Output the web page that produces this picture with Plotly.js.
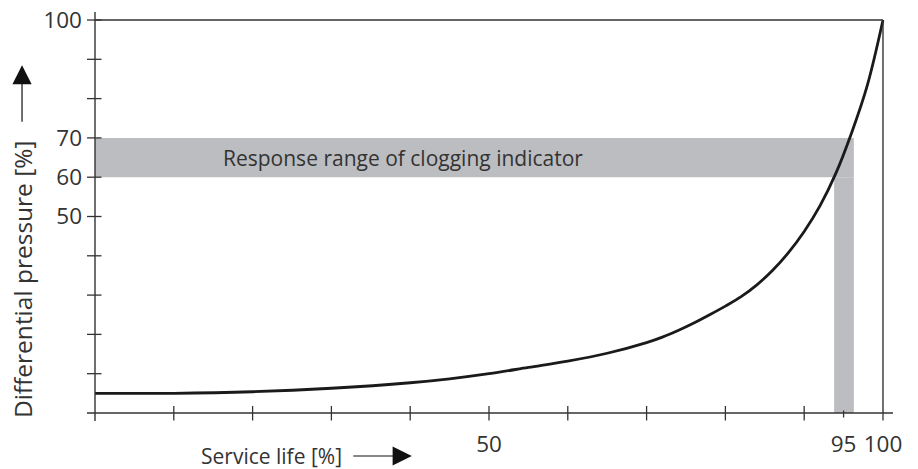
<!DOCTYPE html>
<html>
<head>
<meta charset="utf-8">
<script src="https://cdn.plot.ly/plotly-3.0.1.min.js"></script>
<style>html,body{margin:0;padding:0;background:#fff;}#chart{width:918px;height:469px;}</style>
</head>
<body>
<div id="chart"></div>
<script>
// Curve data: service life [%] vs differential pressure [%]
const serviceLife = [0, 10, 20, 30, 40, 45, 50, 55, 60, 65, 70, 72, 74, 76, 78, 80, 82, 84, 86, 88, 90, 92, 94, 96, 98, 100];
const diffPressure = [5.0, 5.0, 5.4, 6.3, 7.7, 8.7, 10.0, 11.6, 13.2, 15.2, 17.9, 19.3, 21.0, 22.9, 25.0, 27.2, 29.6, 32.6, 36.3, 40.8, 46.2, 52.7, 60.9, 71.2, 83.3, 100];

// Response range of clogging indicator
const responsePressure = [60, 70];
const responseLife = [93.8, 96.3];

// Ticks
const yTickMarks = [10, 20, 30, 40, 50, 60, 70, 80, 90, 100];
const yTickLabels = [100, 70, 60, 50];
const xTickMarks = [10, 20, 30, 40, 50, 60, 70, 80, 90, 100];
const xTickLabels = [50, 95, 100];
const xMax = 100, yMax = 100;

const axisColor = '#333333';
const bandColor = '#bcbdc0';
const textColor = '#333333';
const fontFamily = '"Open Sans", "Noto Sans", sans-serif';

const shapes = [];
// band
shapes.push({type:'rect', xref:'x', yref:'y', x0:0, x1:responseLife[1], y0:responsePressure[0], y1:responsePressure[1],
  fillcolor:bandColor, line:{width:0}, layer:'below'});
shapes.push({type:'rect', xref:'x', yref:'y', x0:responseLife[0], x1:responseLife[1], y0:0, y1:responsePressure[0],
  fillcolor:bandColor, line:{width:0}, layer:'below'});
// axes
shapes.push({type:'line', xref:'x', yref:'paper', x0:0, x1:0, y0:0, y1:1, line:{color:axisColor, width:1.4}});
shapes.push({type:'line', xref:'paper', yref:'y', x0:0, x1:1, y0:0, y1:0, line:{color:axisColor, width:1.4}});
// frame top / right
shapes.push({type:'line', xref:'x', yref:'y', x0:0, x1:xMax, y0:yMax, y1:yMax, line:{color:axisColor, width:1.4}});
shapes.push({type:'line', xref:'x', yref:'y', x0:xMax, x1:xMax, y0:0, y1:yMax, line:{color:axisColor, width:1.4}});
// y tick marks (crossing)
yTickMarks.forEach(v => shapes.push({type:'line', xref:'x', yref:'y', xsizemode:'pixel', xanchor:0,
  x0:-8, x1:6.5, y0:v, y1:v, line:{color:axisColor, width:1.3}}));
// x tick marks (crossing)
xTickMarks.forEach(v => shapes.push({type:'line', xref:'x', yref:'y', ysizemode:'pixel', yanchor:0,
  x0:v, x1:v, y0:-7.5, y1:v === xMax ? 0 : 7, line:{color:axisColor, width:1.3}}));
// short 95 tick
shapes.push({type:'line', xref:'x', yref:'y', ysizemode:'pixel', yanchor:0,
  x0:xTickLabels[1], x1:xTickLabels[1], y0:-4.5, y1:2.5, line:{color:axisColor, width:1.3}});

const data = [{
  x: serviceLife, y: diffPressure, type:'scatter', mode:'lines',
  line:{color:'#1a1a1a', width:2.8, shape:'spline', smoothing:1.0},
  hoverinfo:'skip'
}];

const layout = {
  width:918, height:469,
  margin:{l:87, r:25, t:12, b:48},
  paper_bgcolor:'#ffffff', plot_bgcolor:'#ffffff',
  showlegend:false,
  font:{family:fontFamily, color:textColor, size:21},
  xaxis:{range:[-1.015, 101.27], showgrid:false, zeroline:false, showline:false,
    tickmode:'array', tickvals:xTickLabels, ticktext:xTickLabels.map(String), ticks:'',
    ticklabelstandoff:7, tickfont:{family:fontFamily, size:22.5, color:textColor}, fixedrange:true},
  yaxis:{range:[-2.04, 102.04], showgrid:false, zeroline:false, showline:false,
    tickmode:'array', tickvals:yTickLabels, ticktext:yTickLabels.map(String), ticks:'',
    ticklabelstandoff:4, tickfont:{family:fontFamily, size:22.5, color:textColor}, fixedrange:true},
  shapes: shapes,
  annotations:[
    {text:'Response range of clogging indicator', xref:'x', yref:'y', x:16.0, y:(responsePressure[0]+responsePressure[1])/2,
     xanchor:'left', yanchor:'middle', showarrow:false, font:{family:fontFamily, size:21, color:textColor}},
    {text:'Differential pressure [%]', xref:'paper', yref:'paper', x:-0.0806, y:0.347, textangle:-90,
     xanchor:'center', yanchor:'middle', showarrow:false, font:{family:fontFamily, size:24.5, color:textColor}},
    {text:'', xref:'paper', yref:'paper', x:-0.0806, y:0.870, ax:0, ay:58, showarrow:true,
     arrowhead:2, arrowsize:3.2, arrowwidth:1.2, arrowcolor:'#111', standoff:0},
    {text:'Service life [%]', xref:'paper', yref:'paper', x:0.2295, y:-0.0856,
     xanchor:'center', yanchor:'middle', showarrow:false, font:{family:fontFamily, size:21, color:textColor}},
    {text:'', xref:'paper', yref:'paper', x:0.403, y:-0.0856, ax:-60, ay:0, showarrow:true,
     arrowhead:2, arrowsize:3.2, arrowwidth:1.2, arrowcolor:'#111', standoff:0}
  ]
};

Plotly.newPlot('chart', data, layout, {displayModeBar:false, staticPlot:true});
</script>
</body>
</html>
